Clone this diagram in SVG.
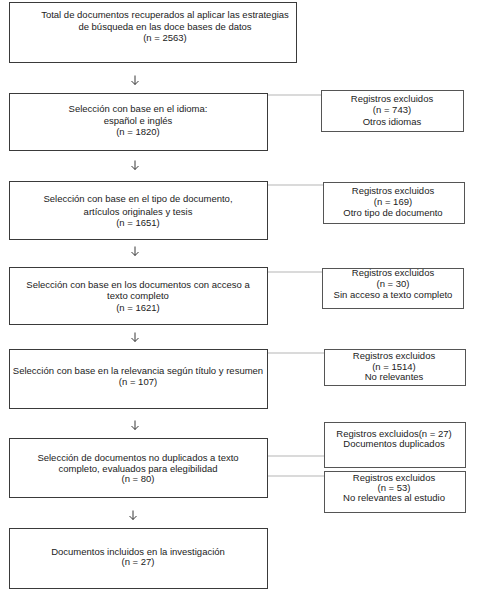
<svg xmlns="http://www.w3.org/2000/svg" width="479" height="593" viewBox="0 0 479 593">
<style>
.box{fill:#fff;stroke:#3a3a3a;stroke-width:1}
.rbox{fill:#fff;stroke:#555;stroke-width:1}
.t{font-family:"Liberation Sans",Arial,sans-serif;font-size:9.5px;fill:#222;text-anchor:middle}
.ln{stroke:#b5b5b5;stroke-width:1;fill:none}
.ar{stroke:#222;stroke-width:0.9;fill:none}
</style>
<rect width="479" height="593" fill="#fff"/>
<g id="connectors">
<line class="ln" x1="268" y1="95" x2="321" y2="95"/>
<line class="ln" x1="268" y1="185" x2="323" y2="185"/>
<line class="ln" x1="268" y1="272" x2="322" y2="272"/>
<line class="ln" x1="268" y1="353" x2="324" y2="353"/>
<line class="ln" x1="268" y1="456" x2="324" y2="456"/>
<line class="ln" x1="268" y1="476" x2="324" y2="476"/>
<path class="ar" d="M135,75.5v9M131.5,81l3.5,3.5l3.5,-3.5"/>
<path class="ar" d="M135,160.5v9M131.5,166l3.5,3.5l3.5,-3.5"/>
<path class="ar" d="M135,246.5v9M131.5,252l3.5,3.5l3.5,-3.5"/>
<path class="ar" d="M135,332.5v9M131.5,338l3.5,3.5l3.5,-3.5"/>
<path class="ar" d="M135,420.5v9M131.5,426l3.5,3.5l3.5,-3.5"/>
<path class="ar" d="M133,510.5v9M129.5,516l3.5,3.5l3.5,-3.5"/>
</g>
<g id="n1">
<rect class="box" x="9.5" y="2.5" width="287" height="60"/>
<text class="t" x="165" y="18">Total de documentos recuperados al aplicar las estrategias</text>
<text class="t" x="165" y="30">de búsqueda en las doce bases de datos</text>
<text class="t" x="165" y="41">(n = 2563)</text>
</g>
<g id="n2">
<rect class="box" x="9.5" y="93.5" width="258" height="57"/>
<text class="t" x="138" y="112">Selección con base en el idioma:</text>
<text class="t" x="138" y="124">español e inglés</text>
<text class="t" x="138" y="135">(n = 1820)</text>
</g>
<g id="e2">
<rect class="rbox" x="321.5" y="90.5" width="142" height="41"/>
<text class="t" x="392" y="102">Registros excluidos</text>
<text class="t" x="392" y="113">(n = 743)</text>
<text class="t" x="392" y="125">Otros idiomas</text>
</g>
<g id="n3">
<rect class="box" x="9.5" y="181.5" width="258" height="58"/>
<text class="t" x="138" y="202">Selección con base en el tipo de documento,</text>
<text class="t" x="138" y="215">artículos originales y tesis</text>
<text class="t" x="138" y="226">(n = 1651)</text>
</g>
<g id="e3">
<rect class="rbox" x="323.5" y="182.5" width="141" height="41"/>
<text class="t" x="393" y="194">Registros excluidos</text>
<text class="t" x="393" y="205">(n = 169)</text>
<text class="t" x="393" y="216">Otro tipo de documento</text>
</g>
<g id="n4">
<rect class="box" x="9.5" y="267.5" width="258" height="57"/>
<text class="t" x="138" y="288">Selección con base en los documentos con acceso a</text>
<text class="t" x="138" y="299">texto completo</text>
<text class="t" x="138" y="311">(n = 1621)</text>
</g>
<g id="e4">
<rect class="rbox" x="322.5" y="268.5" width="141" height="40"/>
<text class="t" x="393" y="276">Registros excluidos</text>
<text class="t" x="393" y="287">(n = 30)</text>
<text class="t" x="393" y="298">Sin acceso a texto completo</text>
</g>
<g id="n5">
<rect class="box" x="9.5" y="349.5" width="258" height="59"/>
<text class="t" x="138" y="374">Selección con base en la relevancia según título y resumen</text>
<text class="t" x="138" y="385">(n = 107)</text>
</g>
<g id="e5">
<rect class="rbox" x="324.5" y="349.5" width="141" height="36"/>
<text class="t" x="394" y="359">Registros excluidos</text>
<text class="t" x="394" y="370">(n = 1514)</text>
<text class="t" x="394" y="380">No relevantes</text>
</g>
<g id="n6">
<rect class="box" x="9.5" y="438.5" width="258" height="59"/>
<text class="t" x="138" y="461">Selección de documentos no duplicados a texto</text>
<text class="t" x="138" y="472">completo, evaluados para elegibilidad</text>
<text class="t" x="138" y="482">(n = 80)</text>
</g>
<g id="e6a">
<rect class="rbox" x="324.5" y="422.5" width="141" height="45"/>
<text class="t" x="394" y="437">Registros excluidos(n = 27)</text>
<text class="t" x="394" y="447">Documentos duplicados</text>
</g>
<g id="e6b">
<rect class="rbox" x="324.5" y="471.5" width="141" height="41"/>
<text class="t" x="394" y="481">Registros excluidos</text>
<text class="t" x="394" y="491">(n = 53)</text>
<text class="t" x="394" y="501">No relevantes al estudio</text>
</g>
<g id="n7">
<rect class="box" x="9.5" y="528.5" width="258" height="60"/>
<text class="t" x="138" y="555">Documentos incluidos en la investigación</text>
<text class="t" x="138" y="565">(n = 27)</text>
</g>
</svg>
